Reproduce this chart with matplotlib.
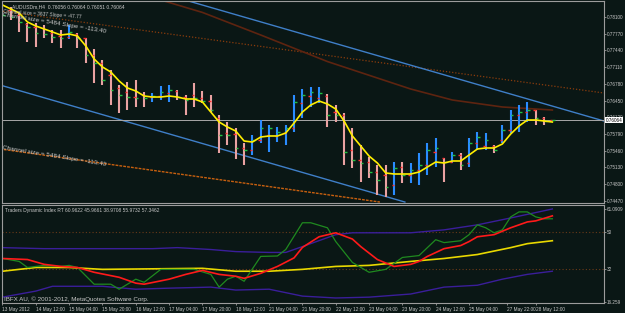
import matplotlib.pyplot as plt
import numpy as np
from matplotlib import rcParams

W, H, DPI = 625, 313, 100
BG = "#0a1715"
FG = "#c8c8c8"
FRAME = "#9c9c9c"
FS = 3.5
rcParams.update({
    "font.family": ["Liberation Sans", "DejaVu Sans"],
    "font.size": FS,
    "axes.linewidth": 0.8,
})

# ---- AUDUSDm H4 bars (13 May - 28 May 2012) ----
OPEN = [0.78317, 0.78238, 0.78140, 0.77962, 0.77902, 0.77883, 0.77784, 0.77725, 0.77705, 0.77764,
        0.77685, 0.77349, 0.77191, 0.76954, 0.76697, 0.76618, 0.76519, 0.76559, 0.76519, 0.76539,
        0.76598, 0.76638, 0.76519, 0.76559, 0.76500, 0.76440, 0.76104, 0.75808, 0.75788, 0.75512,
        0.75472, 0.75670, 0.75768, 0.75749, 0.75808, 0.75907, 0.76401, 0.76539, 0.76500, 0.76539,
        0.76223, 0.76164, 0.75472, 0.75274, 0.75235, 0.75037, 0.74978, 0.74780, 0.75136, 0.74978,
        0.75077, 0.75176, 0.75432, 0.75314, 0.75235, 0.75373, 0.75215, 0.75610, 0.75551, 0.75551,
        0.75670, 0.75867, 0.76164, 0.76223, 0.76262, 0.76104, 0.76056]
HIGH = [0.78337, 0.78298, 0.78179, 0.77982, 0.77982, 0.77942, 0.77843, 0.77843, 0.77942, 0.77784,
        0.77685, 0.77468, 0.77250, 0.77053, 0.76756, 0.76816, 0.76855, 0.76618, 0.76598, 0.76737,
        0.76756, 0.76658, 0.76559, 0.76796, 0.76638, 0.76559, 0.76164, 0.76025, 0.75907, 0.75610,
        0.75768, 0.76065, 0.75966, 0.75926, 0.75966, 0.76559, 0.76677, 0.76717, 0.76717, 0.76579,
        0.76361, 0.76203, 0.75907, 0.75571, 0.75334, 0.75176, 0.75176, 0.75235, 0.75235, 0.75215,
        0.75413, 0.75610, 0.75709, 0.75314, 0.75432, 0.75413, 0.75709, 0.75828, 0.75808, 0.75571,
        0.75966, 0.76262, 0.76361, 0.76420, 0.76262, 0.76124, 0.76064]
LOW = [0.78041, 0.78041, 0.77804, 0.77606, 0.77507, 0.77685, 0.77586, 0.77488, 0.77665, 0.77488,
       0.77191, 0.76796, 0.76756, 0.76361, 0.76203, 0.76262, 0.76322, 0.76322, 0.76420, 0.76460,
       0.76420, 0.76460, 0.76164, 0.76322, 0.76401, 0.76223, 0.75413, 0.75571, 0.75294, 0.75176,
       0.75373, 0.75610, 0.75432, 0.75630, 0.75571, 0.75828, 0.76104, 0.76322, 0.76401, 0.75926,
       0.76025, 0.75176, 0.75116, 0.74840, 0.74919, 0.74583, 0.74543, 0.74583, 0.74820, 0.74820,
       0.74780, 0.74978, 0.75136, 0.74840, 0.75215, 0.75077, 0.75136, 0.75472, 0.75472, 0.75413,
       0.75610, 0.75808, 0.75828, 0.76025, 0.75966, 0.75966, 0.76051]
CLOSE = [0.78140, 0.78100, 0.78001, 0.77902, 0.77784, 0.77764, 0.77705, 0.77685, 0.77804, 0.77685,
         0.77349, 0.77191, 0.76855, 0.76658, 0.76559, 0.76519, 0.76500, 0.76500, 0.76539, 0.76618,
         0.76658, 0.76519, 0.76460, 0.76500, 0.76440, 0.76262, 0.75768, 0.75768, 0.75512, 0.75472,
         0.75670, 0.75907, 0.75907, 0.75828, 0.75907, 0.76420, 0.76559, 0.76618, 0.76598, 0.76164,
         0.76164, 0.75432, 0.75274, 0.75215, 0.75037, 0.74879, 0.74741, 0.75116, 0.74978, 0.75077,
         0.75176, 0.75472, 0.75512, 0.75235, 0.75373, 0.75176, 0.75610, 0.75729, 0.75670, 0.75472,
         0.75867, 0.76164, 0.76223, 0.76262, 0.76104, 0.76045, 0.76064]
MA_FAST = [0.78337, 0.78258, 0.78179, 0.78001, 0.77922, 0.77863, 0.77804, 0.77744, 0.77764, 0.77725,
           0.77527, 0.77270, 0.77112, 0.77013, 0.76835, 0.76697, 0.76638, 0.76539, 0.76519, 0.76519,
           0.76539, 0.76519, 0.76480, 0.76480, 0.76420, 0.76223, 0.76025, 0.75926, 0.75847, 0.75650,
           0.75630, 0.75729, 0.75749, 0.75749, 0.75808, 0.76006, 0.76223, 0.76361, 0.76440, 0.76381,
           0.76282, 0.76045, 0.75749, 0.75551, 0.75353, 0.75215, 0.75018, 0.74998, 0.74998, 0.74998,
           0.75037, 0.75136, 0.75235, 0.75215, 0.75255, 0.75255, 0.75373, 0.75492, 0.75512, 0.75512,
           0.75591, 0.75788, 0.75946, 0.76065, 0.76065, 0.76045, 0.76025]
MA_SLOW_X = [15, 19, 24, 31, 39, 49, 54, 60, 66]
MA_SLOW = [0.78634, 0.78436, 0.78190, 0.77744, 0.77220, 0.76677, 0.76460, 0.76322, 0.76262]
LAST_PRICE = 0.76064

# channel lines (bar index, price)
BLUE_UP_X, BLUE_UP_Y = [21.9, 72.2], [0.78436, 0.76045]
BLUE_DN_X, BLUE_DN_Y = [-0.3, 48.3], [0.76756, 0.74444]
ORANGE_UP_X, ORANGE_UP_Y = [-0.3, 72.2], [0.78219, 0.76598]
ORANGE_DN_X, ORANGE_DN_Y = [-0.3, 45.3], [0.75492, 0.74444]

PRICE_TICKS = [0.78100, 0.77770, 0.77440, 0.77110, 0.76780, 0.76450, 0.76120,
               0.75790, 0.75460, 0.75130, 0.74800, 0.74470]

# ---- Traders Dynamic Index ----
RSI_X = [0, 2, 3, 5, 7, 8, 9, 11, 13, 14, 16, 17, 19, 21, 23, 25, 26, 27, 28, 29, 31, 33, 34,
         36, 37, 39, 40, 42, 44, 46, 48, 50, 51, 52, 53, 55, 56, 57, 58, 59, 60, 61, 62, 63, 64, 65, 66]
RSI = [37.2, 35.8, 32.9, 33.9, 33.4, 33.9, 32.9, 24.9, 24.9, 22.5, 27.3, 25.8, 32.0, 32.0, 32.0,
       29.6, 23.5, 27.3, 28.7, 26.3, 38.2, 38.4, 41.5, 54.3, 54.3, 51.9, 45.3, 35.3, 30.6, 32.0,
       37.7, 38.6, 42.4, 46.2, 44.8, 45.7, 48.6, 53.3, 51.9, 49.5, 50.9, 57.1, 59.5, 59.5, 57.1, 56.2, 56.2]
SIG_X = [0, 3, 5, 7, 9, 11, 14, 16, 17, 20, 22, 24, 26, 28, 29, 31, 33, 35, 36, 38, 40, 42, 43,
         45, 47, 49, 50, 51, 53, 55, 56, 57, 59, 61, 63, 64, 66]
SIG = [37.2, 36.7, 34.4, 33.4, 32.9, 30.6, 28.2, 25.4, 24.9, 27.3, 29.6, 31.5, 29.6, 28.7, 27.7,
       30.1, 33.4, 37.5, 42.5, 47.6, 49.5, 46.5, 42.9, 36.7, 33.4, 34.4, 35.8, 38.2, 41.9, 43.4,
       45.3, 47.6, 48.6, 51.9, 54.7, 55.2, 57.6]
BASE_X = [0, 4, 8, 12, 24, 28, 32, 36, 40, 44, 49, 53, 57, 61, 63, 66]
BASE = [31.1, 32.9, 32.9, 32.0, 32.5, 31.1, 31.1, 32.0, 33.4, 33.9, 35.8, 37.2, 39.1, 42.4, 44.3, 45.7]
BAND_UP_X = [0, 5, 12, 18, 21, 25, 28, 32, 34, 36, 40, 42, 49, 53, 57, 61, 66]
BAND_UP = [42.4, 41.9, 41.9, 41.9, 42.4, 41.5, 40.5, 40.1, 40.1, 42.9, 48.6, 49.5, 49.5, 50.9,
           53.3, 56.6, 60.9]
BAND_DN_X = [0, 4, 6, 12, 16, 20, 25, 28, 32, 36, 40, 44, 49, 53, 57, 60, 63, 66]
BAND_DN = [18.7, 21.6, 23.9, 23.9, 22.5, 23.0, 23.5, 22.1, 22.5, 19.2, 18.3, 18.7, 20.2, 23.5,
           24.4, 27.3, 29.6, 31.1]
TDI_LEVELS = [50, 32]
TDI_TICKS = [61.0909, 50, 32, 16.259]
TDI_TICK_LABELS = ["61.0909", "50", "32", "16.259"]

TIME_BARS = [0, 4, 8, 12, 16, 20, 24, 28, 32, 36, 40, 44, 48, 52, 56, 60.6, 64]
TIME_LABELS = ["13 May 2012", "14 May 12:00", "15 May 04:00", "15 May 20:00", "16 May 12:00",
               "17 May 04:00", "17 May 20:00", "18 May 12:00", "21 May 04:00", "21 May 20:00",
               "22 May 12:00", "23 May 04:00", "23 May 20:00", "24 May 12:00", "25 May 04:00",
               "27 May 22:00", "28 May 12:00"]

XLIM = (-0.06, 72.2)


def style_axis(ax):
    ax.set_facecolor(BG)
    for sp in ax.spines.values():
        sp.set_color(FRAME)
    ax.yaxis.tick_right()
    ax.tick_params(axis="y", colors=FRAME, labelcolor=FG, length=1.5, width=0.6, pad=0.6,
                   labelsize=FS - 0.2)
    ax.set_xlim(*XLIM)


def main():
    fig = plt.figure(figsize=(W / DPI, H / DPI), dpi=DPI, facecolor=BG)
    ax = fig.add_axes([2 / W, 1 - 203 / H, 602 / W, 202 / H])
    sub = fig.add_axes([2 / W, 1 - 303 / H, 602 / W, 98 / H])
    style_axis(ax)
    style_axis(sub)

    # ---- price panel ----
    o, h, l, c = map(np.array, (OPEN, HIGH, LOW, CLOSE))
    x = np.arange(len(o))
    cols = np.where(c >= o, "#2a8cff", "#eaa2a2")
    ax.plot(ORANGE_UP_X, ORANGE_UP_Y, color="#8a3c0c", lw=0.9, ls=(0, (1, 1.5)))
    ax.plot(ORANGE_DN_X, ORANGE_DN_Y, color="#c8600f", lw=1.0, ls=(0, (2, 0.8)))
    ax.plot(MA_SLOW_X, MA_SLOW, color="#5e2410", lw=1.2)
    ax.plot(BLUE_UP_X, BLUE_UP_Y, color="#3f7fc8", lw=1.0)
    ax.plot(BLUE_DN_X, BLUE_DN_Y, color="#3f7fc8", lw=1.0)
    ax.axhline(LAST_PRICE, color="#a8a8a8", lw=0.7)
    ax.vlines(x, l, h, colors=cols, lw=1.5)
    ax.hlines(o, x - 0.3, x, colors="#ff3030", lw=1.0)
    ax.hlines(c, x, x + 0.3, colors="#20c040", lw=1.0)
    ax.plot(x, MA_FAST, color="#ffee00", lw=1.2)

    ax.set_ylim(0.74425, 0.78416)
    ax.set_yticks(PRICE_TICKS)
    ax.set_yticklabels([f"{v:.5f}" for v in PRICE_TICKS])
    ax.set_xticks([])
    ax.text(1.003, LAST_PRICE, f"{LAST_PRICE:.5f}", transform=ax.get_yaxis_transform(),
            ha="left", va="center", color="black", fontsize=FS - 0.2, zorder=10,
            bbox=dict(boxstyle="square,pad=0.2", fc="white", ec="none"))

    ax.text(0.017, 0.985, "AUDUSDm,H4  0.76056 0.76064 0.76051 0.76064", transform=ax.transAxes,
            color=FG, fontsize=FS + 0.1, va="top", ha="left")
    ax.text(0.06, 0.78170, "Channel size = 3637 Slope = -47.77", color=FG, fontsize=FS,
            rotation=-4, rotation_mode="anchor", va="baseline", ha="left")
    ax.text(0.06, 0.78199, "Channel size = 5484 Slope = -113.40", color=FG, fontsize=4.6,
            rotation=-9.3, rotation_mode="anchor", va="top", ha="left")
    ax.text(0.06, 0.75560, "Channel size = 5484 Slope = -113.40", color=FG, fontsize=4.6,
            rotation=-9.3, rotation_mode="anchor", va="top", ha="left")

    # ---- TDI panel ----
    for lv in TDI_LEVELS:
        sub.axhline(lv, color="#6a3a18", lw=0.8, ls=(0, (1, 2)))
    sub.plot(BAND_UP_X, BAND_UP, color="#3a1e9a", lw=1.0)
    sub.plot(BAND_DN_X, BAND_DN, color="#3a1e9a", lw=1.0)
    sub.plot(BASE_X, BASE, color="#e8d800", lw=1.2)
    sub.plot(RSI_X, RSI, color="#1f8a1f", lw=0.9)
    sub.plot(SIG_X, SIG, color="#ff1a1a", lw=1.2)
    sub.set_ylim(15.9, 62.8)
    sub.set_yticks(TDI_TICKS)
    sub.set_yticklabels(TDI_TICK_LABELS)
    sub.set_xticks(TIME_BARS)
    sub.set_xticklabels(TIME_LABELS, ha="left")
    sub.tick_params(axis="x", colors=FRAME, labelcolor=FG, length=1.5, width=0.6, pad=1.2,
                    labelsize=FS - 0.1)
    sub.text(0.005, 0.965, "Traders Dynamic Index RT 60.9622 45.9661 38.9708 55.9732 57.3462",
             transform=sub.transAxes, color=FG, fontsize=FS, va="top", ha="left")
    sub.text(0.003, 0.015, "IBFX AU, \u00a9 2001-2012, MetaQuotes Software Corp.",
             transform=sub.transAxes, color=FG, fontsize=4.5, va="bottom", ha="left")

    fig.savefig("out.png", dpi=DPI, facecolor=BG)
    plt.close(fig)


if __name__ == "__main__":
    main()
